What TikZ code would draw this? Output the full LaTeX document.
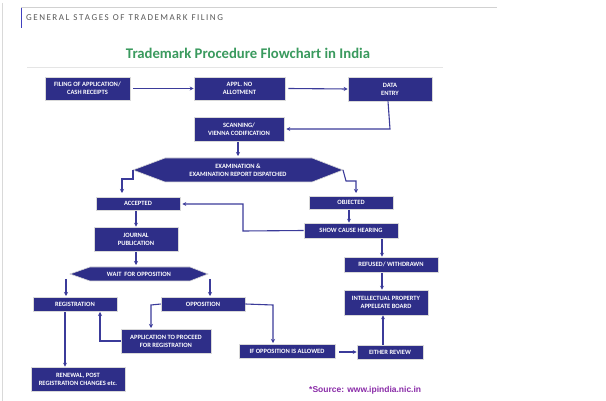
\documentclass[tikz,border=0pt]{standalone}
\usepackage{fontspec}
\setmainfont{Carlito}
\newfontfamily\srcfont{Liberation Sans}
\usetikzlibrary{arrows.meta}
\definecolor{navy}{HTML}{2E2E88}
\definecolor{arr}{HTML}{3B3B9A}
\definecolor{ttl}{HTML}{3A9A5E}
\definecolor{src}{HTML}{8A2BA8}
\tikzset{
 bx/.style={fill=navy,draw=black!15,line width=0.6pt,inner sep=0pt,text=white,font=\bfseries\fontsize{6.5}{8}\selectfont,align=center},
 ar/.style={draw=arr,line width=1.1pt,-{Stealth[length=4pt,width=4pt]}},
 hex/.style={fill=navy,draw=black!15,line width=0.6pt}
}
\newcommand{\bxat}[6]{\node[bx,minimum width=#4-#2,minimum height=#5-#3] (#1) at ({(#2+#4)/2},{(#3+#5)/2}) {#6};}
\begin{document}
\begin{tikzpicture}[x=1pt,y=-1pt]
\useasboundingbox (0,0) rectangle (606,401);
\fill[white] (0,0) rectangle (606,401);
\draw[black!15,line width=0.6pt] (2,3) -- (2,401);
\draw[black!18,line width=0.8pt] (21,7) -- (497,7);
\draw[blue!50!gray,line width=1pt] (21,8) -- (21,28);
\node[anchor=west,text=black!65,font=\fontsize{9}{10}\selectfont,inner sep=0pt] (hdr) at (26,18) {G\,E\,N\,E\,R\,A\,L\ \ S\,T\,A\,G\,E\,S\ \ O\,F\ \ T\,R\,A\,D\,E\,M\,A\,R\,K\ \ F\,I\,L\,I\,N\,G};
\node[text=ttl,font=\bfseries\fontsize{14.7}{16}\selectfont,inner sep=0pt] (title) at (248,53) {Trademark Procedure Flowchart in India};
\draw[black!10,line width=0.8pt] (27,67) -- (443,67);
\bxat{fil}{45}{77}{130}{100}{FILING OF APPLICATION/\\CASH RECEIPTS}
\bxat{app}{194}{77}{285}{100}{APPL. NO\\ALLOTMENT}
\bxat{dat}{348}{77}{432}{101}{DATA\\ENTRY}
\bxat{scn}{194}{117}{284}{141}{SCANNING/\\VIENNA CODIFICATION}
\fill[hex] (133,170) -- (165,158) -- (312,158) -- (343,170) -- (312,182) -- (165,182) -- cycle;
\node[bx,fill=none,draw=none] (exa) at (238,170) {EXAMINATION \&\\EXAMINATION REPORT DISPATCHED};
\coordinate (exl) at (133,170); \coordinate (exr) at (343,170);
\bxat{acc}{96}{197}{180}{210}{ACCEPTED}
\bxat{obj}{309}{196}{393}{209}{OBJECTED}
\bxat{jou}{94}{227}{178}{251}{JOURNAL\\PUBLICATION}
\bxat{shc}{304}{223}{398}{238}{SHOW CAUSE HEARING}
\fill[hex] (70,274) -- (90,267) -- (190,267) -- (208,274) -- (190,281) -- (90,281) -- cycle;
\node[bx,fill=none,draw=none] (wai) at (139,274) {WAIT\ \ FOR OPPOSITION};
\coordinate (wl) at (70,274); \coordinate (wr) at (208,274);
\bxat{ref}{344}{257}{438}{272}{REFUSED/ WITHDRAWN}
\bxat{reg}{33}{297}{117}{311}{REGISTRATION}
\bxat{opp}{161}{297}{245}{311}{OPPOSITION}
\bxat{ipa}{344}{290}{428}{315}{INTELLECTUAL PROPERTY\\APPELEATE BOARD}
\bxat{apr}{121}{329}{211}{353}{APPLICATION TO PROCEED\\FOR REGISTRATION}
\bxat{ifo}{239}{344}{335}{358}{IF OPPOSITION IS ALLOWED}
\bxat{eit}{357}{345}{423}{359}{EITHER REVIEW}
\bxat{ren}{31}{367}{125}{391}{RENEWAL, POST\\REGISTRATION CHANGES etc.}
\node[text=src,font=\srcfont\bfseries\fontsize{8.5}{10}\selectfont,anchor=west,inner sep=0pt] (srcn) at (309,390) {*Source: www.ipindia.nic.in};
% arrows
\draw[ar] (fil.east) ++(3,0) -- (app.west);
\draw[ar] (app.east) ++(3,0) -- (dat.west);
\draw[ar] ([xshift=-2pt]dat.south) -- (390,129) -- ([xshift=2pt]scn.east |- 0,129);
\draw[ar] (238,142) -- (238,156);
\draw[ar] (exl) -- (133,179) -- (122,179) -- (122,193);
\draw[ar] (exr) -- (346,181) -- (356,181) -- (356,193);
\draw[ar] (shc.west) -- (243,231) -- (243,204) -- ([xshift=2pt]acc.east |- 0,204);
\draw[ar] (349,210) -- (shc.north -| 349,0);
\draw[ar] (136,211) -- (jou.north -| 136,0);
\draw[ar] (136,252) -- (136,265);
\draw[ar] (382,239) -- (ref.north -| 382,0);
\draw[ar] (382,273) -- (ipa.north -| 382,0);
\draw[ar] (66,279) -- (66,296);
\draw[ar] (210,279) -- (210,296);
\draw[ar] (opp.west) -- (151,305) -- (151,328);
\draw[ar] (apr.west) -- (100,341) -- (100,312);
\draw[ar] (opp.east) -- (273,305) -- (273,343);
\draw[ar] (65,312) -- (ren.north -| 65,0);
\draw[ar] (339,352) -- (eit.west);
\draw[ar] (eit.north -| 383,0) -- (ipa.south -| 383,0);
\end{tikzpicture}
\end{document}
